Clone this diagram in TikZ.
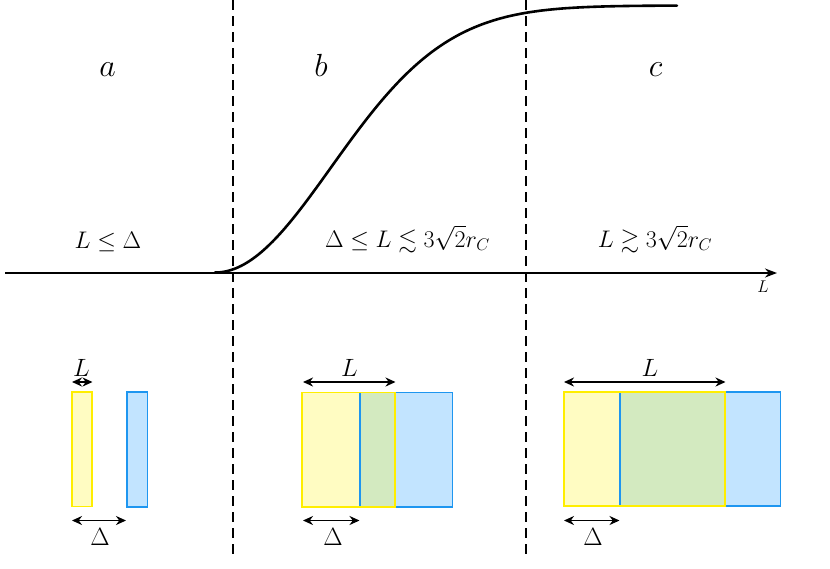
\RequirePackage{fix-cm}
\documentclass[tikz,border=0pt]{standalone}
\usepackage{amssymb}
\usetikzlibrary{arrows.meta}
\definecolor{yedge}{RGB}{255,238,0}
\definecolor{yfill}{RGB}{255,252,194}
\definecolor{bedge}{RGB}{30,150,240}
\definecolor{bfill}{RGB}{194,228,255}
\definecolor{gfill}{RGB}{211,234,192}
\tikzset{
  curve/.style={line width=2.6pt, line cap=round},
  axisline/.style={line width=1.8pt, -{Stealth[length=12pt,width=9pt]}},
  divider/.style={line width=1.6pt, dash pattern=on 10pt off 6pt},
  yrect/.style={draw=yedge, line width=1.8pt},
  brect/.style={draw=bedge, line width=1.8pt},
  dim/.style={line width=1.6pt, {Stealth[length=10pt,width=9pt]}-{Stealth[length=10pt,width=9pt]}},
  biglab/.style={anchor=base, inner sep=0pt, font=\fontsize{32}{36}\selectfont},
  ineq/.style={anchor=base, inner sep=0pt, font=\fontsize{24}{28}\selectfont},
  dimlab/.style={anchor=base, inner sep=0pt, font=\fontsize{25}{29}\selectfont},
  axlab/.style={anchor=base, inner sep=0pt, font=\fontsize{17}{20}\selectfont},
}
\begin{document}
\begin{tikzpicture}[x=1pt,y=-1pt]
\useasboundingbox (0,0) rectangle (830,568);
% region labels
\node[biglab] (la) at (107.5,76) {$a$};
\node[biglab] (lb) at (321,76) {$b$};
\node[biglab] (lc) at (655.5,76) {$c$};
% inequalities
\node[ineq] (ia) at (108,248) {$L \leq \Delta$};
\node[ineq] (ib) at (407.5,247) {$\Delta \leq L \lesssim 3\sqrt{2}r_C$};
\node[ineq] (ic) at (655,247) {$L \gtrsim 3\sqrt{2}r_C$};
% axis
\coordinate (ax0) at (5,273);
\coordinate (ax1) at (777,273);
\draw[axisline] (ax0) -- (ax1);
\node[axlab] (axL) at (763,292) {$L$};
% dividers
\coordinate (d1t) at (233,0); \coordinate (d1b) at (233,556);
\coordinate (d2t) at (526,0); \coordinate (d2b) at (526,556);
\draw[divider] (d1t) -- (d1b);
\draw[divider] (d2t) -- (d2b);
% sigmoid curve
\draw[curve] plot[domain=215:677, samples=160, smooth] (\x, {272.5-267*(1-exp(-((\x-215)/164)^2))});
% ---- case a
\fill[yfill] (72,392) rectangle (92,506.5);
\fill[bfill] (127,392.3) rectangle (147.5,507.3);
\draw[brect] (127,392.3) rectangle (147.5,507.3);
\draw[yrect] (72,392) rectangle (92,506.5);
\coordinate (aL0) at (72,382); \coordinate (aL1) at (92.5,382);
\draw[dim] (aL0) -- (aL1);
\node[dimlab] (aLl) at (81.5,376) {$L$};
\coordinate (aD0) at (72,520.5); \coordinate (aD1) at (126,520.5);
\draw[dim] (aD0) -- (aD1);
\node[dimlab] (aDl) at (100,545) {$\Delta$};
% ---- case b
\fill[yfill] (302,392.5) rectangle (360,507);
\fill[gfill] (360,392.5) rectangle (395,507);
\fill[bfill] (395,392.5) rectangle (452.5,507);
\draw[brect] (360,392.5) rectangle (452.5,507);
\draw[yrect] (302,392.5) rectangle (395,507);
\coordinate (bL0) at (303,382); \coordinate (bL1) at (395.5,382);
\draw[dim] (bL0) -- (bL1);
\node[dimlab] (bLl) at (349.5,376) {$L$};
\coordinate (bD0) at (303,520.5); \coordinate (bD1) at (359.5,520.5);
\draw[dim] (bD0) -- (bD1);
\node[dimlab] (bDl) at (333,545) {$\Delta$};
% ---- case c
\fill[yfill] (564,391.7) rectangle (620,506);
\fill[gfill] (620,391.7) rectangle (725,506);
\fill[bfill] (725,391.7) rectangle (780.5,506);
\draw[brect] (620,391.7) rectangle (780.5,506);
\draw[yrect] (564,391.7) rectangle (725,506);
\coordinate (cL0) at (564,382); \coordinate (cL1) at (725.5,382);
\draw[dim] (cL0) -- (cL1);
\node[dimlab] (cLl) at (650,376) {$L$};
\coordinate (cD0) at (564,520.5); \coordinate (cD1) at (619.5,520.5);
\draw[dim] (cD0) -- (cD1);
\node[dimlab] (cDl) at (593,545) {$\Delta$};
\end{tikzpicture}
\end{document}
